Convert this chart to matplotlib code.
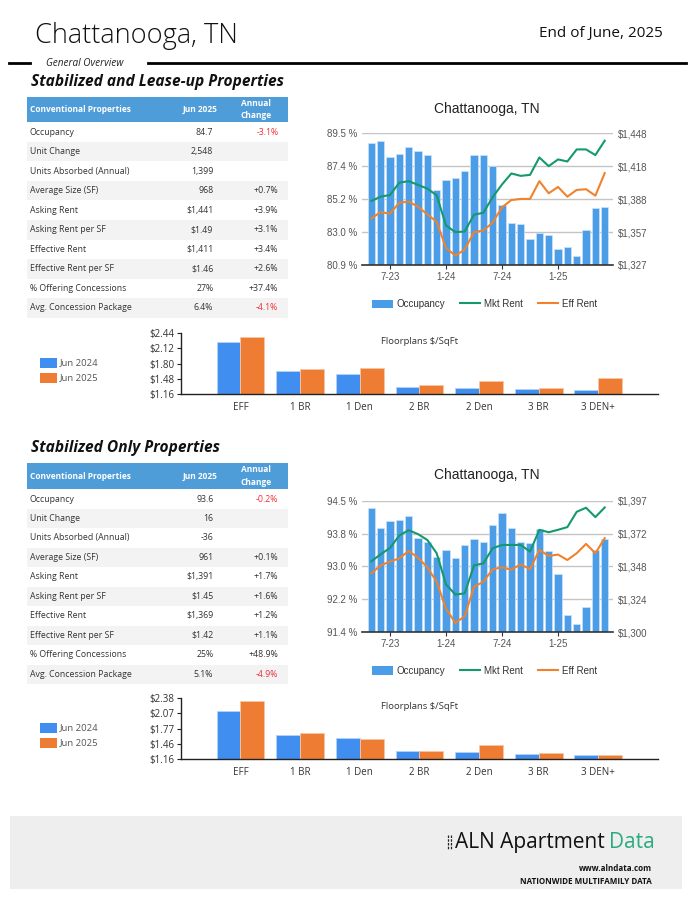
import matplotlib
matplotlib.use('Agg')
import matplotlib.pyplot as plt
from matplotlib.patches import Rectangle, Patch
from matplotlib.lines import Line2D
import numpy as np

# ---------------- DATA ----------------
months = ['5-23', '6-23', '7-23', '8-23', '9-23', '10-23', '11-23', '12-23',
          '1-24', '2-24', '3-24', '4-24', '5-24', '6-24', '7-24', '8-24',
          '9-24', '10-24', '11-24', '12-24', '1-25', '2-25', '3-25', '4-25',
          '5-25', '6-25']
month_ticks = ['7-23', '1-24', '7-24', '1-25']

occ_all = [88.84, 88.97, 87.92, 88.17, 88.58, 88.36, 88.08, 85.82, 86.46, 86.61,
           87.07, 88.08, 88.08, 87.38, 84.82, 83.61, 83.55, 82.61, 82.98, 82.83,
           81.93, 82.06, 81.49, 83.18, 84.64, 84.69]
mkt_all = [1385.8, 1389.8, 1391.3, 1402.7, 1404.0, 1400.6, 1397.2, 1391.0, 1363.3,
           1357.2, 1357.8, 1373.2, 1375.0, 1389.4, 1401.0, 1411.1, 1408.9, 1409.8,
           1425.8, 1417.8, 1424.0, 1422.1, 1433.2, 1433.2, 1428.0, 1441.2]
eff_all = [1369.8, 1375.6, 1374.1, 1384.3, 1385.2, 1380.6, 1373.5, 1366.7, 1342.7,
           1335.6, 1341.2, 1357.2, 1358.7, 1366.0, 1380.0, 1386.7, 1387.7, 1387.7,
           1404.0, 1392.9, 1398.7, 1389.8, 1396.0, 1396.6, 1390.7, 1411.4]
occ_all_ticks = ['80.9 %', '83.0 %', '85.2 %', '87.4 %', '89.5 %']
rent_all_ticks = ['$1,327', '$1,357', '$1,388', '$1,418', '$1,448']

occ_stab = [94.37, 93.88, 94.05, 94.08, 94.18, 93.64, 93.55, 93.18, 93.35, 93.15,
            93.46, 93.61, 93.55, 93.95, 94.24, 93.88, 93.54, 93.51, 93.86, 93.33,
            92.76, 91.77, 91.55, 91.96, 93.34, 93.62]
mkt_stab = [1352.2, 1357.4, 1362.1, 1371.3, 1375.2, 1372.3, 1368.0, 1358.2, 1335.1,
            1327.7, 1328.5, 1349.2, 1350.7, 1361.9, 1364.3, 1364.3, 1364.3, 1359.4,
            1375.5, 1373.7, 1375.5, 1377.5, 1388.8, 1391.8, 1384.9, 1392.0]
eff_stab = [1343.3, 1349.2, 1352.0, 1354.4, 1359.9, 1354.9, 1347.8, 1337.1, 1317.3,
            1306.7, 1311.6, 1333.4, 1337.1, 1346.3, 1347.8, 1346.0, 1350.0, 1346.3,
            1360.6, 1356.2, 1357.2, 1353.2, 1358.2, 1365.1, 1358.2, 1369.3]
occ_stab_ticks = ['91.4 %', '92.2 %', '93.0 %', '93.8 %', '94.5 %']
rent_stab_ticks = ['$1,300', '$1,324', '$1,348', '$1,372', '$1,397']

fp_cats = ['EFF', '1 BR', '1 Den', '2 BR', '2 Den', '3 BR', '3 DEN+']
fp_all_2024 = [2.264, 1.645, 1.575, 1.315, 1.280, 1.258, 1.244]
fp_all_2025 = [2.370, 1.694, 1.716, 1.350, 1.427, 1.293, 1.498]
fp_all_ticks = ['$1.16', '$1.48', '$1.80', '$2.12', '$2.44']
fp_stab_2024 = [2.132, 1.643, 1.582, 1.314, 1.294, 1.260, 1.247]
fp_stab_2025 = [2.326, 1.683, 1.562, 1.328, 1.435, 1.281, 1.247]
fp_stab_ticks = ['$1.16', '$1.46', '$1.77', '$2.07', '$2.38']

row_labels = ['Occupancy', 'Unit Change', 'Units Absorbed (Annual)', 'Average Size (SF)',
              'Asking Rent', 'Asking Rent per SF', 'Effective Rent', 'Effective Rent per SF',
              '% Offering Concessions', 'Avg. Concession Package']
all_values = ['84.7', '2,548', '1,399', '968', '$1,441', '$1.49', '$1,411', '$1.46', '27%', '6.4%']
all_changes = ['-3.1%', '', '', '+0.7%', '+3.9%', '+3.1%', '+3.4%', '+2.6%', '+37.4%', '-4.1%']
stab_values = ['93.6', '16', '-36', '961', '$1,391', '$1.45', '$1,369', '$1.42', '25%', '5.1%']
stab_changes = ['-0.2%', '', '', '+0.1%', '+1.7%', '+1.6%', '+1.2%', '+1.1%', '+48.9%', '-4.9%']

# ---------------- STYLE ----------------
W, H = 691, 898
SANS = ['Open Sans', 'DejaVu Sans']
ARIAL = ['Liberation Sans', 'DejaVu Sans']
BAR_BLUE = '#4A9DE6'
GREEN = '#14996C'
ORANGE = '#F0822D'
FP_BLUE = '#3F8EF0'
FP_ORANGE = '#EE7D33'

fig = plt.figure(figsize=(W / 100, H / 100), dpi=100)
fig.patch.set_facecolor('white')


def fx(x):
    return x / W


def fy(y):
    return 1 - y / H


def add_ax(l, t, r, b):
    return fig.add_axes([fx(l), fy(b), (r - l) / W, (b - t) / H])


def ftext(x, y, s, **kw):
    kw.setdefault('parse_math', False)
    return fig.text(fx(x), fy(y), s, **kw)


def frect(l, t, r, b, color):
    fig.patches.append(Rectangle((fx(l), fy(b)), (r - l) / W, (b - t) / H,
                                 transform=fig.transFigure, facecolor=color,
                                 edgecolor='none', zorder=0))


# ---------------- HEADER ----------------
ftext(35, 36, 'Chattanooga, TN', fontsize=19.5, family=SANS, fontweight='light',
      color='#111111', va='center', ha='left')
ftext(663, 33, 'End of June, 2025', fontsize=11, family=SANS, color='#111111',
      va='center', ha='right')
fig.add_artist(Line2D([fx(9), fx(30)], [fy(63), fy(63)], color='black', lw=2,
                      transform=fig.transFigure))
fig.add_artist(Line2D([fx(148), fx(686)], [fy(63), fy(63)], color='black', lw=2,
                      transform=fig.transFigure))
ftext(46, 64, 'General Overview', fontsize=7.2, family=SANS, style='italic',
      color='#222222', va='center', ha='left')


def section_title(y, s):
    ftext(31, y, s, fontsize=11.2, family=SANS, style='italic', fontweight='bold',
          color='#111111', va='center', ha='left')


section_title(82, 'Stabilized and Lease-up Properties')
section_title(448, 'Stabilized Only Properties')


# ---------------- TABLES ----------------
def draw_table(top, header_h, row_h, values, changes):
    left, right = 26.7, 288.3
    frect(left, top, right, top + header_h, '#4E9CD8')
    hc = top + header_h / 2
    ftext(30, hc, 'Conventional Properties', fontsize=6, family=SANS, fontweight='bold',
          color='white', va='center', ha='left')
    ftext(200, hc, 'Jun 2025', fontsize=6, family=SANS, fontweight='bold',
          color='white', va='center', ha='center')
    ftext(255.7, hc - 6.5, 'Annual', fontsize=6, family=SANS, fontweight='bold',
          color='white', va='center', ha='center')
    ftext(255.7, hc + 6.5, 'Change', fontsize=6, family=SANS, fontweight='bold',
          color='white', va='center', ha='center')
    for i, (lab, v, c) in enumerate(zip(row_labels, values, changes)):
        y0 = top + header_h + i * row_h
        frect(left, y0, right, y0 + row_h, '#FFFFFF' if i % 2 == 0 else '#F3F3F3')
        yc = y0 + row_h / 2
        ftext(30, yc, lab, fontsize=6.3, family=SANS, color='#333333', va='center', ha='left')
        ftext(213.3, yc, v, fontsize=6.3, family=SANS, color='#333333', va='center', ha='right')
        if c:
            col = '#F0303A' if c.startswith('-') else '#333333'
            ftext(278.3, yc, c, fontsize=6.3, family=SANS, color=col, va='center', ha='right')


draw_table(96.7, 25.6, 19.54, all_values, all_changes)
draw_table(463.3, 26.0, 19.47, stab_values, stab_changes)


# ---------------- LINE / BAR COMBO CHARTS ----------------
def draw_combo(t, b, occ, mkt, eff, occ_lim, occ_labels, rent_lim, rent_labels,
               title_y, legend_y):
    l, r = 361.7, 613.3
    ax = add_ax(l, t, r, b)
    x = np.arange(len(months))
    ax.bar(x, occ, width=0.78, color=BAR_BLUE, edgecolor='#CFE4F8', linewidth=0.5, zorder=2)
    ax.set_xlim(-1.03, len(months) - 1 + 0.92)
    ax.set_ylim(*occ_lim)
    ax.set_yticks(np.linspace(occ_lim[0], occ_lim[1], 5))
    ax.set_yticklabels(occ_labels)
    ax.yaxis.grid(True, color='#C4C4C4', lw=1)
    ax.set_axisbelow(True)
    for s in ['top', 'left', 'right']:
        ax.spines[s].set_visible(False)
    ax.spines['bottom'].set_color('#333333')
    ax.spines['bottom'].set_linewidth(1.2)
    ax.spines['bottom'].set_zorder(5)
    ax.set_xticks([months.index(m) for m in month_ticks])
    ax.set_xticklabels(month_ticks)
    ax.tick_params(axis='x', length=3, color='#333333', pad=2, labelsize=7, labelcolor='#555555')
    ax.tick_params(axis='y', length=0, pad=3, labelsize=7, labelcolor='#555555')
    for lab in ax.get_xticklabels() + ax.get_yticklabels():
        lab.set_family(ARIAL)
    ax2 = ax.twinx()
    ax2.plot(x, mkt, color=GREEN, lw=1.5, zorder=3)
    ax2.plot(x, eff, color=ORANGE, lw=1.5, zorder=3)
    ax2.set_ylim(*rent_lim)
    ax2.set_yticks(np.linspace(rent_lim[0], rent_lim[1], 5))
    ax2.set_yticklabels(rent_labels)
    ax2.tick_params(axis='y', length=0, pad=3, labelsize=7, labelcolor='#555555')
    for lab in ax2.get_yticklabels():
        lab.set_family(ARIAL)
    for s in ax2.spines.values():
        s.set_visible(False)
    ftext(486.7, title_y, 'Chattanooga, TN', fontsize=10, family=ARIAL, color='#222222',
          va='center', ha='center')
    handles = [Patch(facecolor=BAR_BLUE, edgecolor='none'),
               Line2D([0], [0], color=GREEN, lw=1.5),
               Line2D([0], [0], color=ORANGE, lw=1.5)]
    fig.legend(handles, ['Occupancy', 'Mkt Rent', 'Eff Rent'], loc='center',
               bbox_to_anchor=(fx(484.7), fy(legend_y)), ncol=3, frameon=False,
               prop={'family': ARIAL, 'size': 7}, handlelength=2.1, handleheight=1.0,
               columnspacing=1.5, handletextpad=0.4, labelcolor='#333333')


draw_combo(133.3, 265.0, occ_all, mkt_all, eff_all, (80.9, 89.5), occ_all_ticks,
           (1327, 1448), rent_all_ticks, 109, 304.3)
draw_combo(500.7, 632.0, occ_stab, mkt_stab, eff_stab, (91.35, 94.55), occ_stab_ticks,
           (1300, 1397), rent_stab_ticks, 475, 670.7)


# ---------------- FLOORPLAN BAR CHARTS ----------------
def draw_fp(t, b, v24, v25, tick_labels, leg_y):
    ax = add_ax(180.8, t, 658, b)
    x = np.arange(len(fp_cats))
    lo = float(tick_labels[0].replace('$', ''))
    hi = float(tick_labels[-1].replace('$', ''))
    ax.bar(x - 0.2, v24, 0.4, color=FP_BLUE, edgecolor='#B5D3F7', linewidth=0.6)
    ax.bar(x + 0.2, v25, 0.4, color=FP_ORANGE, edgecolor='#F7C6A3', linewidth=0.6)
    ax.set_xlim(-1.0, 7.0)
    ax.set_ylim(lo, hi)
    ax.set_yticks(np.linspace(lo, hi, 5))
    ax.set_yticklabels(tick_labels)
    ax.set_xticks(x)
    ax.set_xticklabels(fp_cats)
    for s in ['top', 'right']:
        ax.spines[s].set_visible(False)
    for s in ['left', 'bottom']:
        ax.spines[s].set_color('#222222')
        ax.spines[s].set_linewidth(1)
    ax.tick_params(axis='y', length=3, color='#222222', pad=1.5, labelsize=7, labelcolor='#333333')
    ax.tick_params(axis='x', length=0, pad=6, labelsize=7, labelcolor='#333333')
    for lab in ax.get_xticklabels() + ax.get_yticklabels():
        lab.set_family(SANS)
    ax.text(0.5, 0.86, 'Floorplans $/SqFt', transform=ax.transAxes, fontsize=6.8,
            family=SANS, color='#333333', ha='center', va='center', parse_math=False)
    for k, (lbl, col) in enumerate([('Jun 2024', FP_BLUE), ('Jun 2025', FP_ORANGE)]):
        yy = leg_y + k * 15
        frect(39.7, yy - 5, 57, yy + 5, col)
        ftext(60, yy, lbl, fontsize=6.8, family=SANS, color='#555555', va='center', ha='left')


draw_fp(333.3, 394.0, fp_all_2024, fp_all_2025, fp_all_ticks, 363)
draw_fp(698.3, 759.0, fp_stab_2024, fp_stab_2025, fp_stab_ticks, 728)

# ---------------- FOOTER ----------------
frect(9.7, 816, 682, 889.3, '#EEEEEE')
t_data = ftext(654.6, 842.3, 'Data', fontsize=15, family=SANS, color='#2BAA80',
               va='center', ha='right')
renderer = fig.canvas.get_renderer()
bb = t_data.get_window_extent(renderer)
x_data_px = bb.x0 * W / fig.bbox.width
t_aln = ftext(x_data_px - 4.5, 842.3, 'ALN Apartment', fontsize=15, family=SANS,
              color='#111111', va='center', ha='right')
bb2 = t_aln.get_window_extent(renderer)
x_aln_px = bb2.x0 * W / fig.bbox.width
for dx in (7.0, 3.5):
    xx = x_aln_px - dx
    fig.add_artist(Line2D([fx(xx), fx(xx)], [fy(835), fy(850)], color='#222222', lw=0.9,
                          dashes=(2, 1), transform=fig.transFigure))
ftext(652, 868.3, 'www.alndata.com', fontsize=5.8, family=SANS, fontweight='bold',
      color='#111111', va='center', ha='right')
ftext(652, 881.7, 'NATIONWIDE MULTIFAMILY DATA', fontsize=5.8, family=SANS, fontweight='bold',
      color='#111111', va='center', ha='right')

fig.savefig('out.png', dpi=100, facecolor='white')
